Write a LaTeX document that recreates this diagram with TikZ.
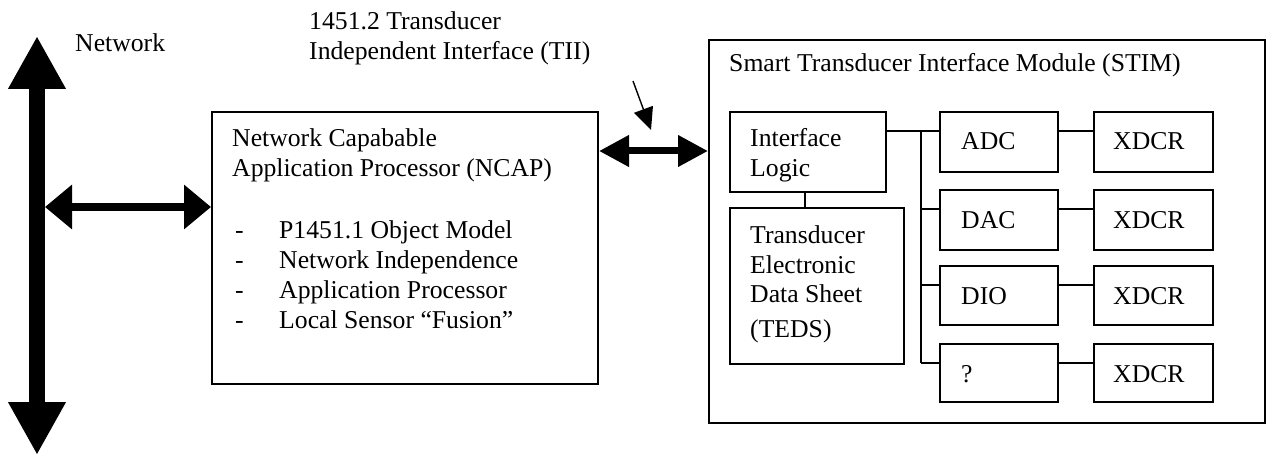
\documentclass[tikz,border=0pt]{standalone}
\usepackage{fontspec}
\setmainfont{Liberation Serif}
\usetikzlibrary{arrows.meta,calc}
\begin{document}
\begin{tikzpicture}[x=1pt,y=-1pt,
  box/.style={draw, line width=2pt, anchor=north west, inner sep=0pt},
  txt/.style={anchor=base west, inner sep=0pt, font=\fontsize{25.7}{30}\selectfont},
  wire/.style={line width=2pt},
  busarrow/.style={line width=16pt, {Triangle[length=53pt,width=54pt]}-{Triangle[length=53pt,width=54pt]}},
  linkarrow/.style={line width=8pt, {Triangle[length=27pt,width=43pt]}-{Triangle[length=27pt,width=43pt]}},
  tiiarrow/.style={line width=7pt, {Triangle[length=30pt,width=30pt]}-{Triangle[length=30pt,width=30pt]}},
  pointer/.style={line width=1.4pt, -{Triangle[length=22pt,width=20pt]}}]
\useasboundingbox (0,0) rectangle (1268,457);

% network bus
\coordinate (nettop) at (37,36);
\coordinate (netbot) at (37,455);
\draw[busarrow] (nettop) -- (netbot);
\node[txt] (netlbl) at (75,52) {Network};

% NCAP
\node[box, minimum width=386pt, minimum height=272pt] (ncap) at (211,111) {};
\node[txt] (ncapt1) at (232,147) {Network Capabable};
\node[txt] (ncapt2) at (232,177) {Application Processor (NCAP)};
\foreach \i/\t/\y in {1/P1451.1 Object Model/238, 2/Network Independence/268, 3/Application Processor/298, 4/Local Sensor “Fusion”/328}{
  \node[txt] (dash\i) at (235,\y) {-};
  \node[txt] (item\i) at (279,\y) {\t};
}
\coordinate (netjoin) at (45,207);
\draw[linkarrow] (netjoin) -- (netjoin -| ncap.west);

% TII
\node[txt] (tii1) at (309,30) {1451.2 Transducer};
\node[txt] (tii2) at (309,60) {Independent Interface (TII)};
\node[box, minimum width=556pt, minimum height=383pt] (stim) at (708,39) {};
\coordinate (tiiy) at (650,151);
\draw[tiiarrow] (tiiy -| ncap.east) -- (tiiy -| stim.west);
\coordinate (ptrstart) at (633,81);
\coordinate (ptrend) at (651,130);
\draw[pointer] (ptrstart) -- (ptrend);

% STIM contents
\node[txt] (stimlbl) at (729,72) {Smart Transducer Interface Module (STIM)};
\node[box, minimum width=156pt, minimum height=80pt] (il) at (729,111) {};
\node[txt] (ilt1) at (750,147) {Interface};
\node[txt] (ilt2) at (750,177) {Logic};
\node[box, minimum width=174pt, minimum height=156pt] (teds) at (729,207) {};
\node[txt] (tedst1) at (750,243) {Transducer};
\node[txt] (tedst2) at (750,273) {Electronic};
\node[txt] (tedst3) at (750,302) {Data Sheet};
\node[txt] (tedst4) at (750,337) {(TEDS)};
\coordinate (iltedsx) at (805,200);
\draw[wire] (iltedsx |- il.south) -- (iltedsx |- teds.north);

\coordinate (busx) at (921,131);
\foreach \n/\t/\y/\h in {adc/ADC/111/60, dac/DAC/189/60, dio/DIO/265/59, unk/?/343/58}{
  \node[box, minimum width=118pt, minimum height=\h pt] (\n) at (939,\y) {};
  \node[txt] (\n t) at (961,\y+39) {\t};
  \node[box, minimum width=119pt, minimum height=\h pt] (x\n) at (1093,\y) {};
  \node[txt] (x\n t) at (1113,\y+39) {XDCR};
  \coordinate (\n y) at (1000,\y+20);
  \draw[wire] (\n y -| \n.east) -- (\n y -| x\n.west);
}
\draw[wire] (adcy -| il.east) -- (adcy -| adc.west);
\draw[wire] (busx |- adcy) -- (busx |- unky);
\foreach \n in {dac,dio,unk}{
  \draw[wire] (busx |- \n y) -- (\n y -| \n.west);
}
\end{tikzpicture}
\end{document}
